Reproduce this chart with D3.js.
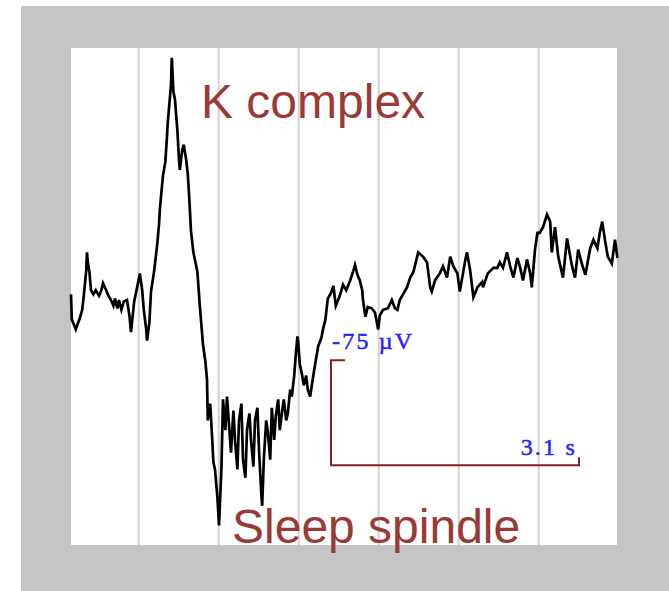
<!DOCTYPE html>
<html>
<head>
<meta charset="utf-8">
<script src="https://cdn.jsdelivr.net/npm/d3@7"></script>
<style>
  html, body { margin: 0; padding: 0; background: #fff; }
</style>
</head>
<body>
<div id="chart"></div>
<script>
// EEG trace: time (s) and amplitude (uV, positive up)
const times = [
  0.00, 0.01, 0.04, 0.06, 0.09, 0.11, 0.14, 0.16, 0.19, 0.20, 0.21, 0.23, 0.25, 0.28, 0.31, 0.35,
  0.38, 0.40, 0.44, 0.46, 0.50, 0.53, 0.55, 0.58, 0.60, 0.63, 0.66, 0.70, 0.73, 0.75, 0.79, 0.83,
  0.86, 0.89, 0.91, 0.94, 0.95, 0.98, 1.00, 1.04, 1.08, 1.10, 1.11, 1.13, 1.15, 1.18, 1.20, 1.21,
  1.24, 1.25, 1.26, 1.28, 1.30, 1.33, 1.35, 1.36, 1.39, 1.41, 1.44, 1.46, 1.48, 1.50, 1.53, 1.58,
  1.61, 1.65, 1.68, 1.70, 1.71, 1.74, 1.76, 1.78, 1.80, 1.83, 1.85, 1.88, 1.90, 1.93, 1.95, 1.98,
  2.00, 2.03, 2.05, 2.08, 2.10, 2.13, 2.15, 2.18, 2.20, 2.23, 2.25, 2.28, 2.30, 2.33, 2.35, 2.38,
  2.39, 2.41, 2.44, 2.46, 2.49, 2.51, 2.54, 2.56, 2.59, 2.61, 2.64, 2.66, 2.69, 2.71, 2.74, 2.76,
  2.79, 2.81, 2.83, 2.84, 2.86, 2.89, 2.91, 2.94, 2.96, 2.99, 3.01, 3.04, 3.06, 3.09, 3.13, 3.15,
  3.18, 3.21, 3.25, 3.28, 3.31, 3.36, 3.40, 3.44, 3.49, 3.53, 3.55, 3.58, 3.61, 3.64, 3.65, 3.68,
  3.71, 3.76, 3.80, 3.84, 3.86, 3.90, 3.96, 4.01, 4.05, 4.08, 4.11, 4.15, 4.20, 4.24, 4.28, 4.34,
  4.40, 4.45, 4.49, 4.51, 4.55, 4.61, 4.65, 4.70, 4.74, 4.78, 4.83, 4.86, 4.93, 4.95, 4.99, 5.03,
  5.08, 5.14, 5.15, 5.21, 5.28, 5.33, 5.36, 5.40, 5.45, 5.49, 5.53, 5.58, 5.61, 5.65, 5.70, 5.74,
  5.76, 5.80, 5.83, 5.86, 5.90, 5.95, 5.99, 6.01, 6.05, 6.09, 6.15, 6.20, 6.26, 6.30, 6.34, 6.39,
  6.43, 6.49, 6.53, 6.58, 6.61, 6.64, 6.68, 6.71, 6.76, 6.80, 6.83,
];

const amplitudes = [
  4, -14, -18, -21, -16, -13, -7, 3, 21, 34, 27, 20, 7, 4, 7, 3,
  7, 12, 7, 4, 0, -4, 1, -6, 0, -7, -1, 0, -11, -23, -1, 10,
  19, 7, -7, -21, -29, -16, 6, 21, 41, 54, 64, 77, 89, 99, 117, 127,
  147, 154, 173, 149, 143, 121, 100, 93, 107, 111, 100, 90, 71, 49, 34, 20,
  -4, -32, -44, -57, -86, -74, -94, -116, -121, -141, -161, -121, -71, -93, -69, -93,
  -109, -79, -100, -121, -86, -74, -114, -127, -93, -81, -100, -119, -86, -77, -107, -140,
  -147, -114, -86, -94, -114, -77, -100, -83, -71, -93, -79, -71, -86, -81, -64, -69,
  -54, -39, -26, -30, -46, -54, -61, -54, -64, -69, -61, -50, -43, -33, -27, -21,
  -14, 1, 5, 10, -4, 3, 11, 7, 14, 21, 25, 18, 14, 7, 0, -12,
  -5, -6, -9, -21, -11, -7, -6, 0, -6, -7, 0, 4, 9, 16, 20, 34,
  31, 27, 9, 6, 14, 19, 24, 16, 31, 24, 19, 6, 29, 34, 21, 2,
  9, 13, 9, 19, 23, 23, 27, 23, 34, 24, 16, 30, 24, 14, 29, 19,
  9, 36, 48, 48, 52, 61, 56, 34, 52, 31, 16, 44, 25, 16, 36, 25,
  18, 37, 43, 37, 48, 56, 41, 31, 26, 43, 30,
];

const gridTimes = [0.84, 1.84, 2.84, 3.84, 4.84, 5.84];

// calibration bar
const barStart = 3.25;
const barBase = -118;
const barDuration = 3.1;
const barAmplitude = 75;
const barLabels = ['-75 \u00b5V', '3.1 s'];

const eventLabels = ['K complex', 'Sleep spindle'];

const data = times.map((t, i) => ({ t, v: amplitudes[i] }));

const W = 669;
const H = 591;
const margin = { top: 48, right: 52, bottom: 46, left: 71 };
const width = W - margin.left - margin.right;
const height = H - margin.top - margin.bottom;

const svg = d3.select('#chart').append('svg')
  .attr('width', W)
  .attr('height', H)
  .style('display', 'block');

// grey slide frame
svg.append('rect')
  .attr('x', 21)
  .attr('y', 6)
  .attr('width', W - 21)
  .attr('height', H - 6)
  .style('fill', '#c6c4c7');

const g = svg.append('g')
  .attr('transform', `translate(${margin.left},${margin.top})`);

g.append('rect')
  .attr('width', width)
  .attr('height', height)
  .style('fill', '#fff');

const x = d3.scaleLinear()
  .domain([0, 6.825])
  .range([0, width]);

const y = d3.scaleLinear()
  .domain([-175, 180])
  .range([height, 0]);

g.append('g')
  .attr('class', 'grid')
  .call(d3.axisBottom(x)
    .tickValues(gridTimes)
    .tickSize(height)
    .tickFormat(''))
  .call(ax => ax.select('.domain').remove())
  .selectAll('line')
  .style('stroke', '#d2d2d2')
  .style('stroke-width', 2);

const line = d3.line()
  .curve(d3.curveLinear)
  .x(d => x(d.t))
  .y(d => y(d.v));

g.append('path')
  .datum(data)
  .attr('class', 'line')
  .style('fill', 'none')
  .style('stroke', '#000')
  .style('stroke-width', 2.7)
  .style('stroke-linejoin', 'miter')
  .attr('d', line);

// calibration bar
const barColor = '#8a1f1f';
const bx0 = x(barStart);
const bx1 = x(barStart + barDuration);
const by0 = y(barBase);
const by1 = y(barBase + barAmplitude);

g.append('path')
  .style('fill', 'none')
  .style('stroke', barColor)
  .style('stroke-width', 2)
  .attr('d', `M${bx0 + 14},${by1}H${bx0}V${by0}H${bx1}V${by0 - 8}`);

const barText = (sel) => sel
  .style('font-family', '"Liberation Serif", serif')
  .style('font-size', '24px')
  .style('letter-spacing', '2.2px')
  .style('fill', '#2424ff')
  .style('stroke', '#2424ff')
  .style('stroke-width', 0.5);

g.append('text')
  .attr('x', bx0 + 1)
  .attr('y', by1 - 11)
  .call(barText)
  .text(barLabels[0]);

g.append('text')
  .attr('x', bx1 - 2)
  .attr('y', by0 - 10)
  .style('text-anchor', 'end')
  .call(barText)
  .text(barLabels[1]);

// event annotations
svg.append('text')
  .attr('x', 201)
  .attr('y', 118)
  .style('font-family', '"Liberation Sans", Arial, sans-serif')
  .style('font-size', '48px')
  .style('fill', '#9a3a36')
  .text(eventLabels[0]);

svg.append('text')
  .attr('x', 232)
  .attr('y', 543)
  .style('font-family', '"Liberation Sans", Arial, sans-serif')
  .style('font-size', '48px')
  .style('fill', '#9a3a36')
  .text(eventLabels[1]);
</script>
</body>
</html>
